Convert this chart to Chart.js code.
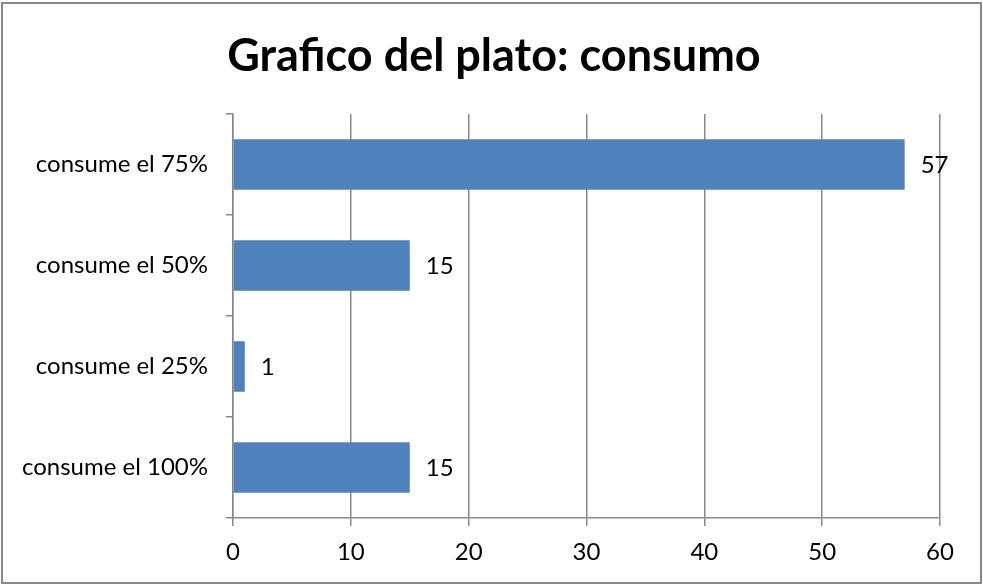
<!DOCTYPE html>
<html>
<head>
<meta charset="utf-8">
<script src="https://cdn.jsdelivr.net/npm/chart.js@4"></script>
<style>
  html, body { margin: 0; padding: 0; background: #fff; }
  #wrap { position: relative; width: 983px; height: 586px; }
</style>
</head>
<body>
<div id="wrap"><canvas id="myChart"></canvas></div>
<script>
// data
var categories = ["consume el 75%", "consume el 50%", "consume el 25%", "consume el 100%"];
var values = [57, 15, 1, 15];
var xTicks = [0, 10, 20, 30, 40, 50, 60];
var titleText = "Grafico del plato: consumo";

var barColor = "#4F81BD";
var lineGray = "#888888";
var fontFam = "Lato, 'Open Sans', sans-serif";

// outer frame, title + value labels
var extras = {
  id: "extras",
  beforeDraw: function(chart) {
    var ctx = chart.ctx;
    ctx.save();
    ctx.fillStyle = "#fff";
    ctx.fillRect(0, 0, chart.width, chart.height);
    ctx.strokeStyle = lineGray;
    ctx.lineWidth = 2;
    ctx.strokeRect(2, 3, 979, 580);
    // title, centred a bit right of the canvas like the original
    ctx.fillStyle = "#000";
    ctx.font = "bold 45px " + fontFam;
    ctx.textAlign = "center";
    ctx.textBaseline = "middle";
    ctx.fillText(titleText, 494, 56);
    ctx.restore();
  },
  afterDatasetsDraw: function(chart) {
    var ctx = chart.ctx;
    var meta = chart.getDatasetMeta(0);
    ctx.save();
    ctx.fillStyle = "#000";
    ctx.font = "24px " + fontFam;
    ctx.textAlign = "left";
    ctx.textBaseline = "middle";
    meta.data.forEach(function(bar, i) {
      ctx.fillText(values[i], bar.x + 16, bar.y + 1);
    });
    ctx.restore();
  }
};

new Chart("myChart", {
  type: "bar",
  data: {
    labels: categories,
    datasets: [{
      data: values,
      backgroundColor: barColor,
      barPercentage: 0.5,
      categoryPercentage: 1
    }]
  },
  options: {
    indexAxis: "y",
    responsive: true,
    maintainAspectRatio: false,
    animation: false,
    layout: { padding: { left: 0, right: 43, top: 114, bottom: 0 } },
    plugins: {
      legend: { display: false },
      tooltip: { enabled: false },
      title: { display: false }
    },
    scales: {
      x: {
        min: 0,
        max: 60,
        afterBuildTicks: function(scale) {
          scale.ticks = xTicks.map(function(v) { return { value: v }; });
        },
        afterFit: function(scale) { scale.height = 68; },
        grid: { color: lineGray, lineWidth: 1.5, tickLength: 8, drawTicks: true },
        border: { color: lineGray, width: 1.5 },
        ticks: { color: "#000", padding: 12, font: { family: fontFam, size: 24 } }
      },
      y: {
        afterFit: function(scale) { scale.width = 233; },
        grid: { offset: true, drawOnChartArea: false, color: lineGray, lineWidth: 1.5, tickLength: 7 },
        border: { color: lineGray, width: 1.5 },
        ticks: { color: "#000", padding: 18, font: { family: fontFam, size: 24 } }
      }
    }
  },
  plugins: [extras]
});
</script>
</body>
</html>
